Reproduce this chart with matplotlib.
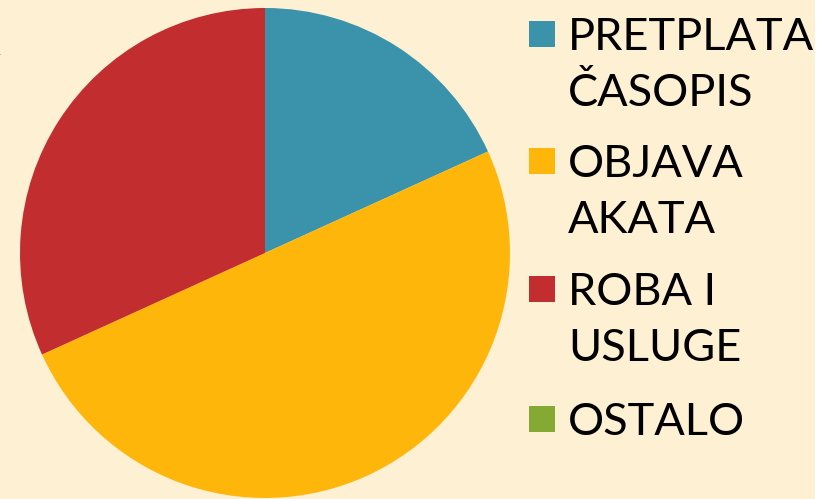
import matplotlib
matplotlib.use("Agg")
import matplotlib.pyplot as plt
from matplotlib.patches import Rectangle

categories = ["PRETPLATA\nČASOPIS", "OBJAVA\nAKATA", "ROBA I\nUSLUGE", "OSTALO"]
values = [18.2, 50.0, 31.8, 0.0]
colors = ["#3A92AB", "#FFB60B", "#C22E2F", "#84AA33"]

W, H = 830, 499
bg = "#FEF0D2"

fig = plt.figure(figsize=(W / 100, H / 100), dpi=100, facecolor="white")
fig.patches.append(Rectangle((0, 0), 815 / W, 1, transform=fig.transFigure,
                             facecolor=bg, edgecolor="none", zorder=-10))

# pie
ax = fig.add_axes([20 / W, 1 / H, 490 / W, 490 / H])
ax.pie(values, colors=colors, startangle=90, counterclock=False,
       wedgeprops=dict(linewidth=0))
ax.set_xlim(-1, 1)
ax.set_ylim(-1, 1)
ax.set_aspect("equal")
ax.axis("off")

# legend drawn by hand so the marker sits on the first line of each label
font = dict(family=["Lato", "DejaVu Sans"], fontsize=32.5, color="black")
first_baselines = [50, 177, 305, 435]
line_gap = 56
for label, col, yb in zip(categories, colors, first_baselines):
    lines = label.split("\n")
    for k, line in enumerate(lines):
        fig.text(568 / W, 1 - (yb + k * line_gap) / H, line,
                 ha="left", va="baseline", **font)
    fig.patches.append(Rectangle((529 / W, 1 - (yb - 3) / H), 26 / W, 26 / H,
                                 transform=fig.transFigure, facecolor=col,
                                 edgecolor="none"))

# stray letter cut off at the left edge
fig.text(0.5 / W, 1 - 55 / H, "A", ha="right", va="baseline", **font)

fig.savefig("out.png", dpi=100, facecolor=fig.get_facecolor())
